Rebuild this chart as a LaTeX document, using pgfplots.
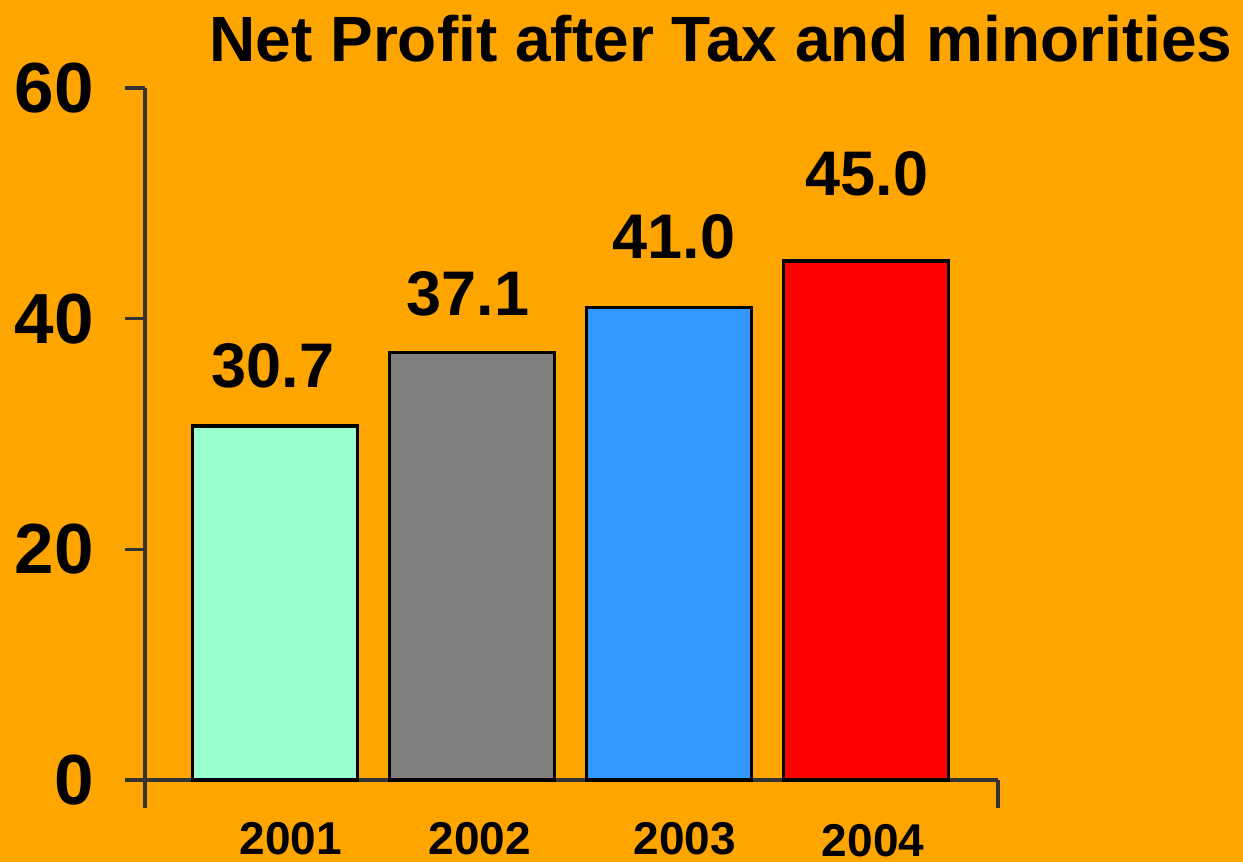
\documentclass[border=0pt]{standalone}
\usepackage{pgfplots}
\pgfplotsset{compat=1.18}
\usepackage{fontspec}
\setmainfont{Liberation Sans}
\definecolor{bgor}{HTML}{FFA500}
\definecolor{mint}{HTML}{99FFCC}
\definecolor{gr}{HTML}{808080}
\definecolor{bl}{HTML}{3399FF}
\definecolor{rd}{HTML}{FF0000}
\definecolor{axc}{HTML}{333333}
\begin{document}
\begin{tikzpicture}
\fill[bgor] (0,0) rectangle (621.5pt,431pt);
\useasboundingbox (0,0) rectangle (621.5pt,431pt);
\node[anchor=base, inner sep=0pt, font=\fontsize{32}{36}\selectfont\bfseries] at (360.5pt,400pt) {Net Profit after Tax and minorities};
\begin{axis}[
  at={(72.5pt,41pt)}, anchor=south west,
  scale only axis, width=426.5pt, height=346pt,
  xmin=-0.66, xmax=3.67, ymin=0, ymax=60,
  axis lines=left,
  axis line style={-, draw=axc, line width=1.6pt},
  ytick={0,20,40,60},
  tick align=outside, major tick length=10pt,
  ytick style={draw=axc, line width=1.6pt},
  xtick=\empty,
  /pgf/number format/assume math mode=true,
  yticklabel style={font=\fontsize{35.5}{40}\selectfont\bfseries, inner sep=0pt, xshift=-15.5pt},
  ybar, bar width=82.5pt, bar shift=0pt,
  clip=false,
]
\addplot[fill=mint, draw=black, line width=1.6pt] coordinates {(0,30.7)};
\addplot[fill=gr, draw=black, line width=1.6pt] coordinates {(1,37.1)};
\addplot[fill=bl, draw=black, line width=1.6pt] coordinates {(2,41.0)};
\addplot[fill=rd, draw=black, line width=1.6pt] coordinates {(3,45.0)};
\draw[axc, line width=1.6pt] (axis cs:-0.66,0) -- (axis cs:-0.66,-2.43);
\draw[axc, line width=1.6pt] (axis cs:3.67,0) -- (axis cs:3.67,-2.43);
\begin{scope}[every node/.style={anchor=base, inner sep=0pt, font=\fontsize{31.5}{35}\selectfont\bfseries}]
\node at (axis cs:-0.01,34.0) {30.7};
\node at (axis cs:0.98,40.3) {37.1};
\node at (axis cs:2.025,45.2) {41.0};
\node at (axis cs:3.005,50.7) {45.0};
\end{scope}
\begin{scope}[every node/.style={anchor=base, inner sep=0pt, font=\fontsize{23}{26}\selectfont\bfseries}]
\node at (axis cs:0.081,-6.45) {2001};
\node at (axis cs:1.04,-6.45) {2002};
\node at (axis cs:2.081,-6.45) {2003};
\node at (axis cs:3.036,-6.62) {2004};
\end{scope}
\end{axis}
\end{tikzpicture}
\end{document}
